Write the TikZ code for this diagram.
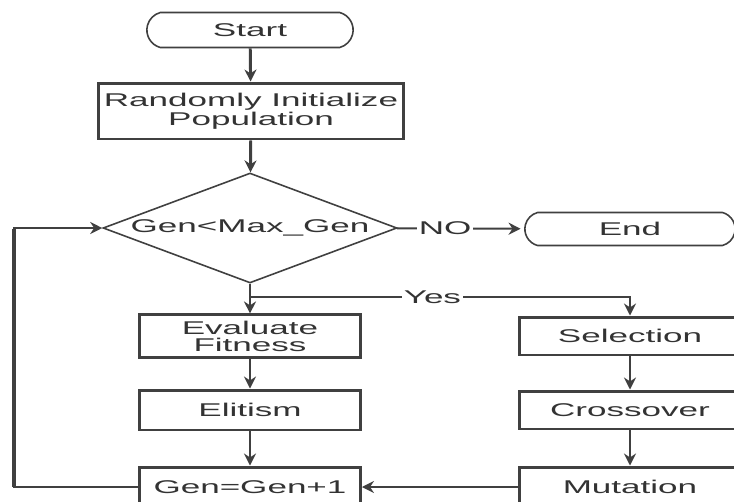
\documentclass[tikz,border=0pt]{standalone}
\usepackage{fontspec}
\setmainfont[FakeStretch=1.9]{Liberation Sans}
\usetikzlibrary{shapes.geometric, shapes.misc, arrows.meta}
\definecolor{linegray}{RGB}{64,64,64}

\begin{document}
\begin{tikzpicture}[x=0.02cm, y=-0.02cm,
  every node/.style={font=\fontsize{10.5}{9.6}\selectfont, text=black!80}]

% Define styles
\tikzstyle{terminal}=[rounded rectangle, rounded rectangle arc length=150, draw=linegray, line width=0.9pt, minimum width=4.36cm, minimum height=0.7cm]
\tikzstyle{process}=[rectangle, draw=linegray, line width=1.7pt, minimum width=4.42cm, minimum height=0.8cm, align=center]
\tikzstyle{decision}=[diamond, draw=linegray, line width=0.9pt, aspect=2.67, inner sep=0pt, minimum width=5.88cm, minimum height=2.2cm]
\tikzstyle{flow}=[draw=linegray, line width=1.7pt, -{Stealth[length=0.24cm, width=0.24cm]}]
\tikzstyle{flowlabel}=[fill=white, inner sep=1pt]

\useasboundingbox (0,0) rectangle (734,501);
\fill[white] (0,0) rectangle (734,501);

% Start, init and test
\node[terminal] (start) at (250,30) {Start};
\node[process, minimum width=6.06cm, minimum height=1.12cm] (init) at (251,111) {Randomly Initialize\\Population};
\node[decision] (check) at (250,228) {Gen<Max\_Gen};
\node[terminal, minimum width=4.44cm, minimum height=0.66cm] (end) at (630,229) {End};

% Left column
\node[process, minimum height=0.82cm] (fitness) at (250,336) {Evaluate\\Fitness};
\node[process] (elitism) at (250,410) {Elitism};
\node[process] (nextgen) at (250,487) {Gen=Gen+1};

% Right column
\node[process, minimum height=0.76cm] (selection) at (630,336) {Selection};
\node[process, minimum height=0.76cm] (crossover) at (630,410) {Crossover};
\node[process] (mutation) at (630,487) {Mutation};

% Helper points
\coordinate (split) at (250,297);
\coordinate (loop) at (14,487);

% Connectors
\draw[flow] (start) -- (init);
\draw[flow] (init) -- (check);
\draw[flow, line width=1.2pt, shorten >=2pt] (check) -- node[flowlabel, pos=0.38] {NO} (end);
\draw[flow] (check.south) -- (fitness);
\draw[flow] (check.south) -- (split) -| node[flowlabel, pos=0.24] {Yes} (selection.north);
\draw[flow] (fitness) -- (elitism);
\draw[flow] (elitism) -- (nextgen);
\draw[flow] (selection) -- (crossover);
\draw[flow] (crossover) -- (mutation);
\draw[flow, line width=1.2pt] (mutation) -- (nextgen);
\draw[flow, line width=1.3pt] (nextgen.west) -- (loop) |- (check.west);
\draw[linegray, line width=2.2pt] (loop) -- (14,229);

\end{tikzpicture}
\end{document}
